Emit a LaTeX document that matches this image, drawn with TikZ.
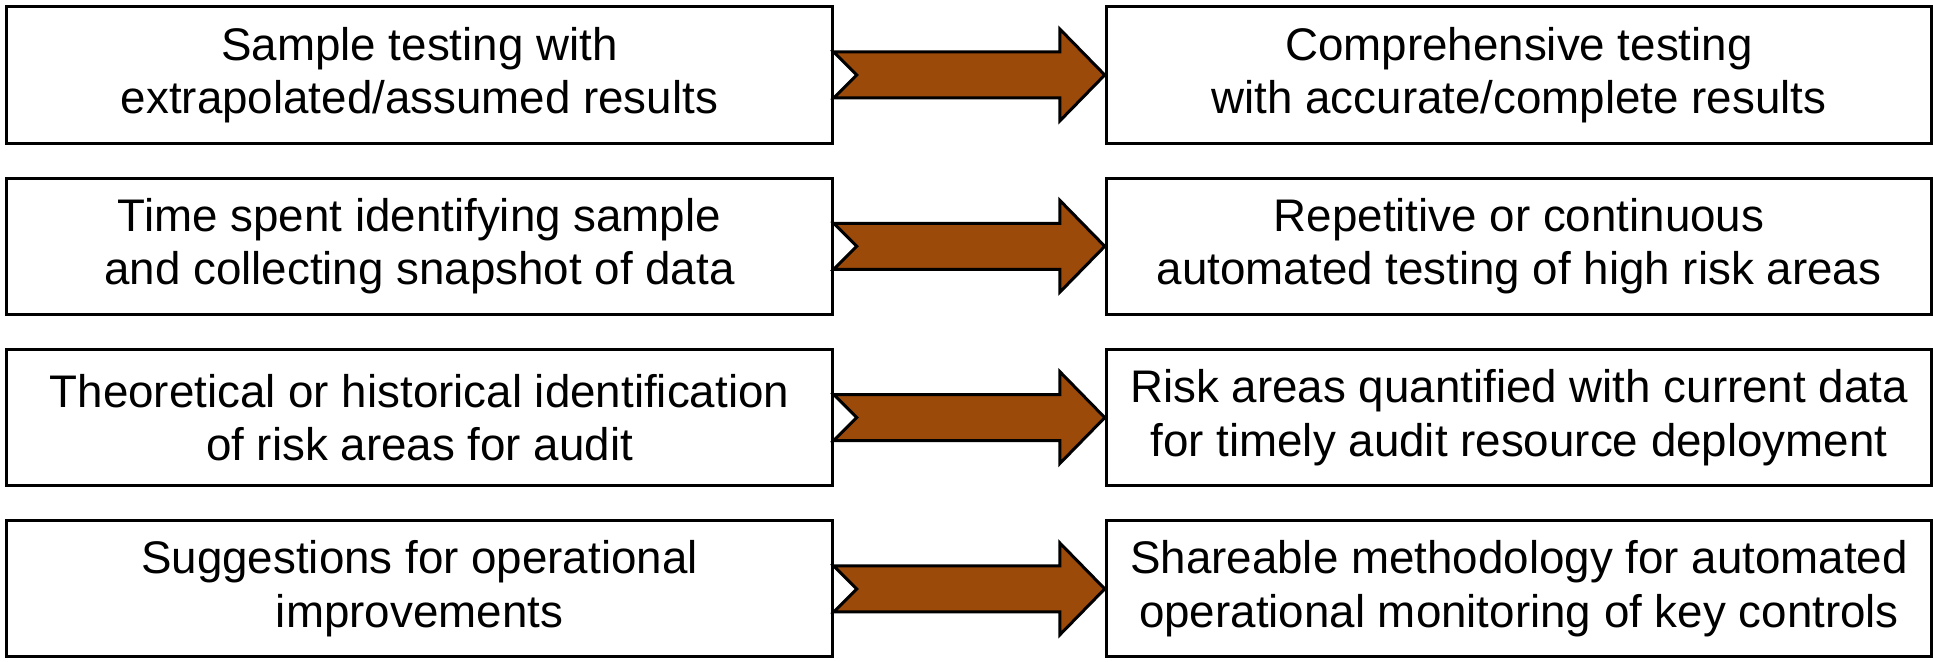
\documentclass[tikz,border=0pt]{standalone}
\usepackage{fontspec}
\setmainfont{Liberation Sans}
\usetikzlibrary{calc}
\definecolor{arrowbrown}{RGB}{156,74,10}
\tikzset{
	every box/.style={draw, line width=0.03cm, minimum width=8.25cm, minimum height=1.36cm,
		inner sep=0pt, align=center, font=\fontsize{13}{15.2}\selectfont},
	fat arrow/.style={draw, line width=0.03cm, fill=arrowbrown, line join=miter}
}
\begin{document}
\begin{tikzpicture}[x=0.01cm, y=0.01cm]
		\useasboundingbox (0,0) rectangle (1933,-662);

		\foreach \t [count=\y] in {Sample testing with\\extrapolated/assumed results,
			Time spent identifying sample\\and collecting snapshot of data,
			Theoretical or historical identification\\of risk areas for audit,
			Suggestions for operational\\improvements}
		\node [every box] (before-\y) at (419.5,-75-171.3*\y+171.3) {\t};

		\foreach \t [count=\y] in {Comprehensive testing\\with accurate/complete results,
			Repetitive or continuous\\automated testing of high risk areas,
			Risk areas quantified with current data\\for timely audit resource deployment,
			Shareable methodology for automated\\operational monitoring of key controls}
		\node [every box] (after-\y) at (1519,-75-171.3*\y+171.3) {\t};

		\foreach \i in {1,...,4}
		\draw [fat arrow] ($(before-\i.east)+(0,23)$) -- ($(after-\i.west)+(-45,23)$)
			-- ++(0,23) -- (after-\i.west) -- ++(-45,-46) -- ++(0,23)
			-- ($(before-\i.east)+(0,-23)$) -- ++(23,23) -- cycle;
	\end{tikzpicture}
\end{document}
